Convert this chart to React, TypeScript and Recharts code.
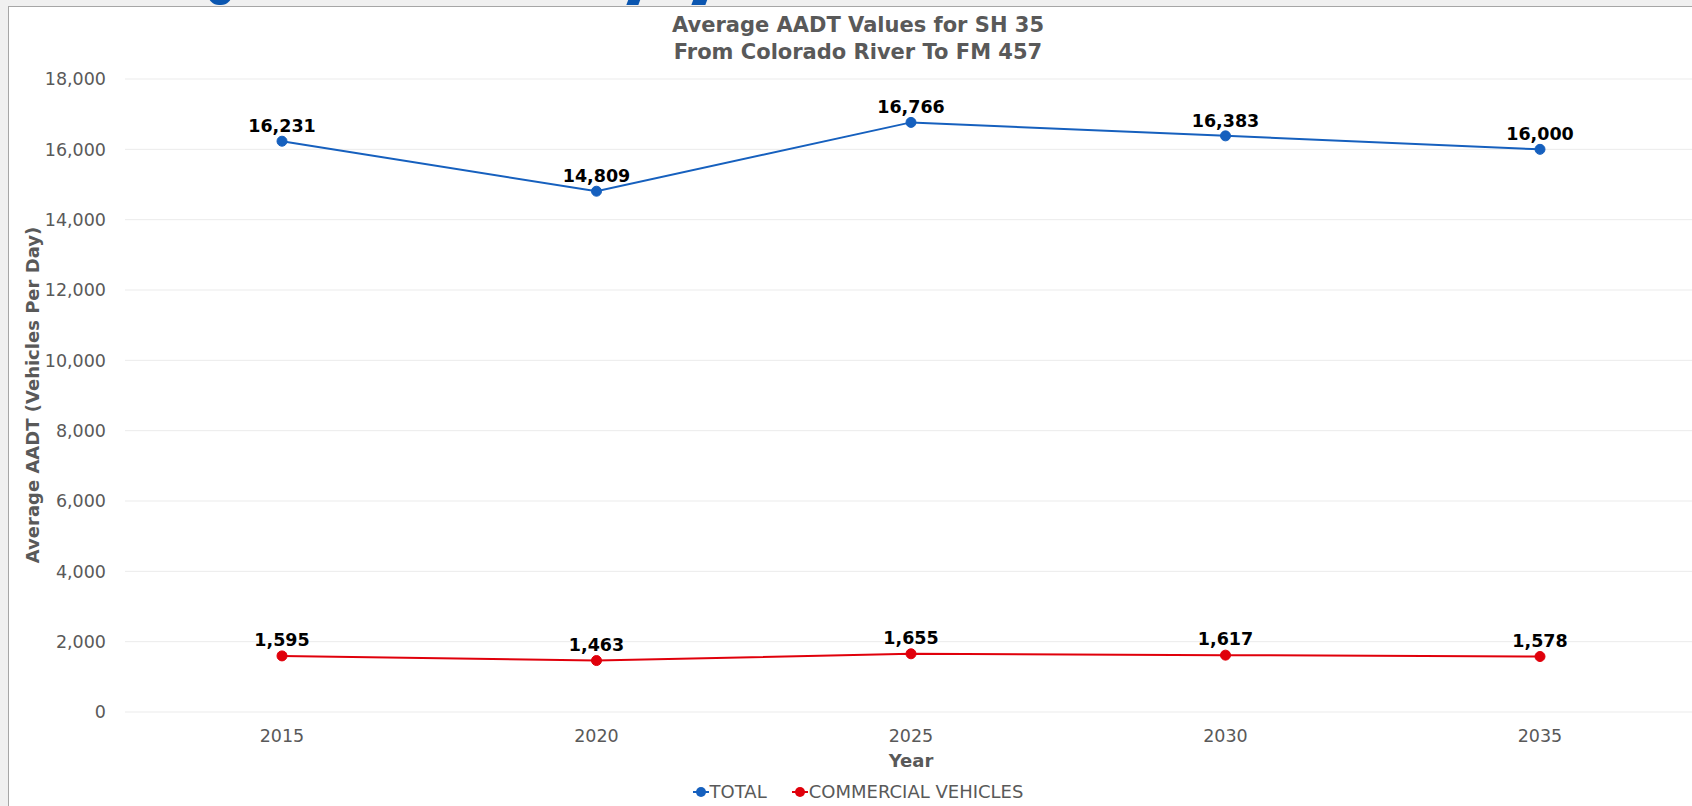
import React from "react";
import {
  LineChart,
  Line,
  XAxis,
  YAxis,
  CartesianGrid,
  Legend,
  LabelList,
} from "recharts";

const years = ["2015", "2020", "2025", "2030", "2035"];
const totalValues = [16231, 14809, 16766, 16383, 16000];
const commercialValues = [1595, 1463, 1655, 1617, 1578];
const yTicks = [0, 2000, 4000, 6000, 8000, 10000, 12000, 14000, 16000, 18000];

const BLUE = "#1660be";
const RED = "#e0000b";
const GRAY = "#595959";
const FONT = "'DejaVu Sans', Verdana, sans-serif";

const chartData = years.map((year, i) => ({
  year,
  total: totalValues[i],
  commercial: commercialValues[i],
}));

const fmt = (v: number) => v.toLocaleString("en-US");

// bold value above each point
function ValueLabel(props: any) {
  const { x, y, value, offset } = props;
  return (
    <text
      x={x}
      y={y - offset}
      textAnchor="middle"
      fontSize={17.5}
      fontWeight="bold"
      fill="#000"
      fontFamily={FONT}
    >
      {fmt(value)}
    </text>
  );
}

function LegendContent() {
  const items = [
    { name: "TOTAL", color: BLUE },
    { name: "COMMERCIAL VEHICLES", color: RED },
  ];
  return (
    <div style={{ display: "flex", justifyContent: "center", gap: 25 }}>
      {items.map((it) => (
        <div key={it.name} style={{ display: "flex", alignItems: "center" }}>
          <svg width={16} height={12} style={{ marginRight: 1 }}>
            <line x1={0} y1={6} x2={16} y2={6} stroke={it.color} strokeWidth={2} />
            <circle cx={8} cy={6} r={5} fill={it.color} />
          </svg>
          <span style={{ fontSize: 18, color: GRAY, fontFamily: FONT }}>{it.name}</span>
        </div>
      ))}
    </div>
  );
}

export default function App() {
  return (
    <div
      style={{
        position: "absolute",
        left: 0,
        top: 0,
        width: 1692,
        height: 806,
        overflow: "hidden",
        background: "#f0f0f0",
        fontFamily: FONT,
      }}
    >
      {/* cut-off heading glyphs peeking in at the top */}
      <div style={{ position: "absolute", left: 208, top: -6, width: 24, height: 11, borderRadius: "0 0 12px 12px", background: "#0b56b0" }} />
      <div style={{ position: "absolute", left: 628, top: -4, width: 12, height: 9, background: "#0b56b0", transform: "skewX(-20deg)" }} />
      <div style={{ position: "absolute", left: 693, top: -4, width: 14, height: 9, background: "#0b56b0", transform: "skewX(-20deg)" }} />

      <div
        style={{
          position: "absolute",
          left: 8,
          top: 6,
          width: 1698,
          height: 800,
          background: "#fff",
          borderLeft: "1px solid #a6a6a6",
          borderTop: "1px solid #a6a6a6",
        }}
      >
        <div
          style={{
            position: "absolute",
            left: 0,
            top: 5,
            width: 1698,
            textAlign: "center",
            fontSize: 21,
            fontWeight: "bold",
            color: GRAY,
            lineHeight: "27px",
          }}
        >
          Average AADT Values for SH 35
          <br />
          From Colorado River To FM 457
        </div>
        <LineChart
          width={1698}
          height={800}
          data={chartData}
          margin={{ top: 72, right: 10, bottom: 65, left: 0 }}
        >
          <CartesianGrid vertical={false} stroke="#ebebeb" strokeWidth={1} />
          <XAxis
            dataKey="year"
            padding={{ left: 157, right: 157 }}
            axisLine={false}
            tickLine={false}
            tickMargin={12}
            tick={{ fill: GRAY, fontSize: 17.5 }}
            label={(p: any) => {
              const vb = p.viewBox;
              return (
                <text
                  x={vb.x + vb.width / 2}
                  y={760}
                  textAnchor="middle"
                  fontSize={18}
                  fontWeight="bold"
                  fill={GRAY}
                >
                  Year
                </text>
              );
            }}
          />
          <YAxis
            width={116}
            domain={[0, 18000]}
            ticks={yTicks}
            interval={0}
            axisLine={false}
            tickLine={false}
            tickMargin={13}
            tickFormatter={fmt}
            tick={{ fill: GRAY, fontSize: 17.5 }}
            label={() => (
              <text
                x={30}
                y={388}
                transform="rotate(-90 30 388)"
                textAnchor="middle"
                fontSize={18}
                fontWeight="bold"
                fill={GRAY}
              >
                Average AADT (Vehicles Per Day)
              </text>
            )}
          />
          <Legend
            verticalAlign="middle"
            content={<LegendContent />}
            wrapperStyle={{ top: 774, left: 0, width: 1698 }}
          />
          <Line
            dataKey="total"
            name="TOTAL"
            stroke={BLUE}
            strokeWidth={2}
            dot={{ r: 5, fill: BLUE, stroke: BLUE, strokeWidth: 1 }}
            isAnimationActive={false}
          >
            <LabelList dataKey="total" offset={9} content={<ValueLabel />} />
          </Line>
          <Line
            dataKey="commercial"
            name="COMMERCIAL VEHICLES"
            stroke={RED}
            strokeWidth={2}
            dot={{ r: 5, fill: RED, stroke: RED, strokeWidth: 1 }}
            isAnimationActive={false}
          >
            <LabelList dataKey="commercial" offset={10} content={<ValueLabel />} />
          </Line>
        </LineChart>
      </div>
    </div>
  );
}
